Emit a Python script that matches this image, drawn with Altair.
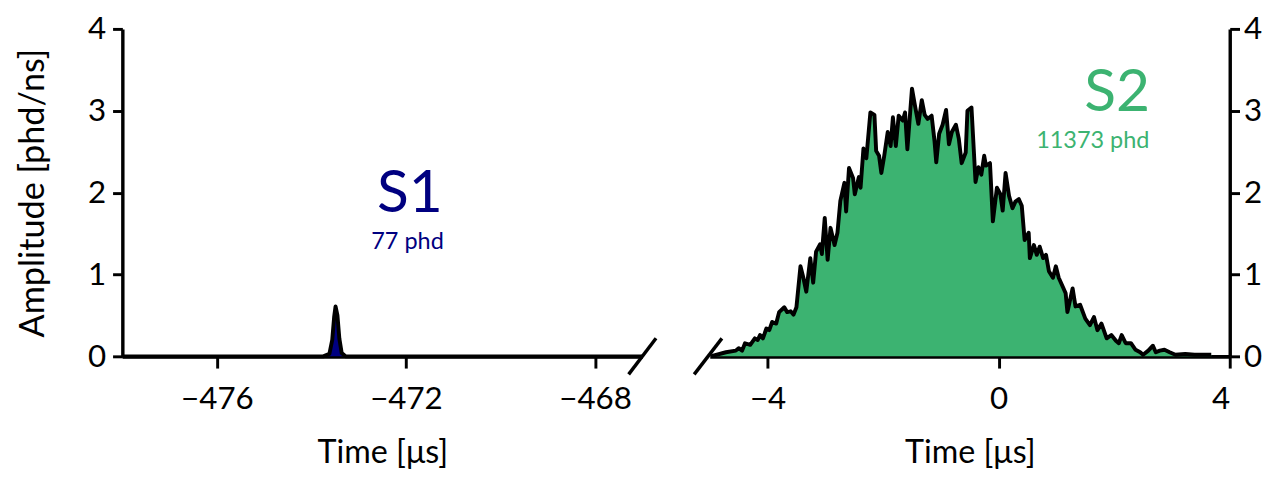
import altair as alt
import pandas as pd

# ---- data ----
s1_t = [-478.0, -473.75, -473.62, -473.56, -473.52, -473.49, -473.45, -473.41, -473.36, -473.28, -467.0]
s1_v = [0.0, 0.0, 0.03, 0.2, 0.48, 0.61, 0.5, 0.22, 0.04, 0.0, 0.0]

s2_t = [-4.97, -4.94, -4.72, -4.55, -4.50, -4.44, -4.39, -4.30, -4.22, -4.17, -4.13, -4.08, -4.02, -3.97,
        -3.92, -3.85, -3.80, -3.71, -3.66, -3.60, -3.55, -3.50, -3.43, -3.38, -3.33, -3.26, -3.21, -3.16,
        -3.09, -3.06, -3.01, -2.96, -2.91, -2.84, -2.79, -2.74, -2.67, -2.64, -2.59, -2.52, -2.49, -2.42,
        -2.39, -2.34, -2.29, -2.22, -2.15, -2.12, -2.07, -2.03, -1.98, -1.92, -1.87, -1.83, -1.78, -1.73,
        -1.66, -1.62, -1.58, -1.50, -1.45, -1.39, -1.33, -1.28, -1.23, -1.16, -1.11, -1.08, -1.03, -0.97,
        -0.91, -0.86, -0.81, -0.74, -0.69, -0.64, -0.57, -0.54, -0.47, -0.40, -0.35, -0.30, -0.25, -0.22,
        -0.15, -0.10, -0.03, 0.03, 0.07, 0.12, 0.18, 0.24, 0.29, 0.35, 0.40, 0.45, 0.52, 0.54, 0.61, 0.66,
        0.71, 0.77, 0.82, 0.87, 0.94, 0.99, 1.04, 1.11, 1.16, 1.19, 1.28, 1.33, 1.41, 1.50, 1.58, 1.65,
        1.71, 1.78, 1.87, 1.95, 2.03, 2.08, 2.13, 2.20, 2.29, 2.37, 2.45, 2.50, 2.59, 2.67, 2.72, 2.79,
        2.87, 2.96, 3.06, 3.23, 3.39, 3.55, 3.68]
s2_v = [0.0, 0.01, 0.05, 0.07, 0.10, 0.07, 0.16, 0.14, 0.22, 0.20, 0.26, 0.22, 0.34, 0.32,
        0.42, 0.40, 0.54, 0.60, 0.54, 0.55, 0.51, 0.60, 1.10, 0.96, 0.79, 1.20, 0.90, 1.28,
        1.37, 1.25, 1.69, 1.18, 1.57, 1.36, 1.51, 1.90, 2.12, 1.77, 2.30, 2.18, 1.98, 2.19,
        2.06, 2.54, 2.42, 2.98, 2.95, 2.51, 2.45, 2.24, 2.45, 2.74, 2.57, 2.92, 2.57, 2.94,
        2.88, 2.98, 2.53, 3.27, 3.07, 2.84, 3.13, 2.95, 2.90, 2.94, 2.63, 2.37, 2.72, 2.83,
        3.01, 2.59, 2.74, 2.83, 2.66, 2.36, 2.49, 3.00, 3.04, 2.13, 2.31, 2.22, 2.45, 2.33,
        2.36, 1.65, 2.06, 1.98, 1.78, 2.24, 1.96, 1.81, 1.89, 1.92, 1.84, 1.42, 1.51, 1.20, 1.36, 1.24,
        1.34, 1.20, 1.24, 1.04, 0.96, 1.10, 0.96, 0.85, 0.77, 0.54, 0.83, 0.61, 0.63, 0.46, 0.38, 0.48,
        0.32, 0.40, 0.22, 0.26, 0.19, 0.16, 0.26, 0.16, 0.16, 0.08, 0.05, 0.02, 0.07, 0.13, 0.05, 0.07,
        0.08, 0.05, 0.02, 0.03, 0.02, 0.02, 0.02]

left_domain = [-478, -467]
right_domain = [-5, 4]
left_ticks = [-476, -472, -468]
right_ticks = [-4, 0, 4]
y_ticks = [0, 1, 2, 3, 4]

s1_label = ["S1", "77 phd"]
s1_label_t = [-471.22, -471.2]
s1_label_v = [1.76, 1.31]
s1_label_size = [60, 24]
s2_label = ["S2", "11373 phd"]
s2_label_t = [2.62, 2.61]
s2_label_v = [3.0, 2.55]
s2_label_size = [60, 24]

# break marks (x range, y range in data units)
brk_left = {"x1": [-467.29], "x2": [-466.71], "y1": [-0.22], "y2": [0.22]}
brk_right = {"x1": [-5.27], "x2": [-4.79], "y1": [-0.22], "y2": [0.22]}

NAVY = "#000080"
GREEN = "#3cb371"
FONT = "Lato"

s1 = pd.DataFrame({"t": s1_t, "v": s1_v})
s2 = pd.DataFrame({"t": s2_t, "v": s2_v})
lab1 = pd.DataFrame({"t": s1_label_t, "v": s1_label_v, "txt": s1_label, "size": s1_label_size})
lab2 = pd.DataFrame({"t": s2_label_t, "v": s2_label_v, "txt": s2_label, "size": s2_label_size})

W, H = 532, 335

def xenc(field, domain, ticks):
    return alt.X(field, type="quantitative",
                 scale=alt.Scale(domain=domain, nice=False, zero=False),
                 axis=alt.Axis(values=ticks, title="Time [μs]", format="d",
                               titlePadding=24, labelPadding=16, tickSize=12, domainWidth=4,
                               titleFontSize=33))

def yenc(field, orient, show_title):
    if show_title:
        ax = alt.Axis(values=y_ticks, orient=orient, format="d", title="Amplitude [phd/ns]",
                      titlePadding=38, labelPadding=7)
    else:
        ax = alt.Axis(values=y_ticks, orient=orient, format="d", title=None, labelPadding=4)
    return alt.Y(field, type="quantitative", scale=alt.Scale(domain=[0, 4], nice=False), axis=ax)

def panel(df, fill, domain, ticks, lab, labcolor, brk, orient, show_title):
    X = lambda f: xenc(f, domain, ticks)
    Y = lambda f: yenc(f, orient, show_title)
    area = alt.Chart(df).mark_area(color=fill, opacity=1, interpolate="linear").encode(x=X("t"), y=Y("v"))
    line = alt.Chart(df).mark_line(color="black", strokeWidth=4, strokeJoin="round").encode(x=X("t"), y=Y("v"))
    text = alt.Chart(lab).mark_text(align="right", baseline="alphabetic", font=FONT, color=labcolor).encode(
        x=X("t"), y=Y("v"), text="txt:N",
        size=alt.Size("size:Q", scale=None, legend=None))
    bdf = pd.DataFrame(brk)
    rule = alt.Chart(bdf).mark_rule(color="black", strokeWidth=3.5).encode(
        x=X("x1"), x2="x2", y=Y("y1"), y2="y2")
    return alt.layer(area, line, rule, text).properties(width=W, height=H)

left = panel(s1, NAVY, left_domain, left_ticks, lab1, NAVY, brk_left, "left", True)
right = panel(s2, GREEN, right_domain, right_ticks, lab2, GREEN, brk_right, "right", False)

chart = alt.hconcat(left, right, spacing=35).properties(
    padding={"left": 8, "top": 0, "right": 0, "bottom": 0}
).configure_view(stroke=None).configure_axis(
    grid=False,
    domainColor="black", domainWidth=3.5,
    tickColor="black", tickWidth=3, tickSize=10,
    labelFont=FONT, labelFontSize=32, labelColor="black",
    titleFont=FONT, titleFontSize=35, titleFontWeight="normal", titleColor="black",
    labelAngle=0,
)

chart.save("out.html", embed_options={"renderer": "svg", "actions": False})
